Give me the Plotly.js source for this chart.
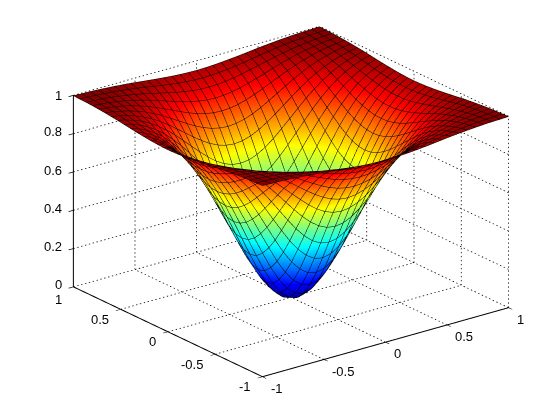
<!DOCTYPE html>
<html><head><meta charset="utf-8"><script src="https://cdn.plot.ly/plotly-3.0.1.min.js"></script>
<style>html,body{margin:0;padding:0;background:#fff}#p{width:560px;height:420px}</style></head><body><div id="p"></div>
<script>
// grid positions, shared by both horizontal axes
const gridCoords=[-1,-0.933,-0.867,-0.8,-0.733,-0.667,-0.6,-0.533,-0.467,-0.4,-0.333,-0.267,-0.2,-0.133,-0.067,0,0.067,0.133,0.2,0.267,0.333,0.4,0.467,0.533,0.6,0.667,0.733,0.8,0.867,0.933,1];
// heights read for one quadrant (centre to corner); the surface is mirror-symmetric
const zQuadrant=[
[0,.013,.052,.113,.192,.283,.381,.480,.574,.660,.736,.801,.853,.895,.927,.950],
[.013,.026,.065,.125,.203,.293,.389,.487,.580,.665,.740,.803,.855,.896,.928,.951],
[.052,.065,.101,.159,.234,.321,.413,.507,.596,.678,.750,.811,.861,.900,.931,.953],
[.113,.125,.159,.213,.283,.365,.451,.539,.622,.699,.766,.823,.870,.907,.935,.956],
[.192,.203,.234,.283,.347,.421,.500,.580,.656,.726,.787,.839,.882,.915,.941,.960],
[.283,.293,.321,.365,.421,.487,.556,.627,.695,.757,.811,.857,.895,.925,.947,.964],
[.381,.389,.413,.451,.500,.556,.617,.678,.736,.790,.837,.877,.909,.935,.955,.969],
[.480,.487,.507,.539,.580,.627,.678,.729,.778,.823,.863,.896,.924,.945,.962,.974],
[.574,.580,.596,.622,.656,.695,.736,.778,.819,.855,.888,.915,.938,.955,.969,.979],
[.660,.665,.678,.699,.726,.757,.790,.823,.855,.885,.911,.932,.950,.964,.975,.983],
[.736,.740,.750,.766,.787,.811,.837,.863,.888,.911,.931,.947,.961,.972,.981,.987],
[.801,.803,.811,.823,.839,.857,.877,.896,.915,.932,.947,.960,.971,.979,.985,.990],
[.853,.855,.861,.870,.882,.895,.909,.924,.938,.950,.961,.971,.978,.985,.989,.993],
[.895,.896,.900,.907,.915,.925,.935,.945,.955,.964,.972,.979,.985,.989,.992,.995],
[.927,.928,.931,.935,.941,.947,.955,.962,.969,.975,.981,.985,.989,.992,.995,.996],
[.950,.951,.953,.956,.960,.964,.969,.974,.979,.983,.987,.990,.993,.995,.996,.998]];
const horizTicks=[-1,-0.5,0,0.5,1];
const horizLabels=['-1','-0.5','0','0.5','1'];
const zTicks=[0,0.2,0.4,0.6,0.8,1];
const zLabels=['0','0.2','0.4','0.6','0.8','1'];
const jet=[[0,'#00008f'],[0.125,'#0000ff'],[0.375,'#00ffff'],[0.625,'#ffff00'],[0.875,'#ff0000'],[1,'#800000']];

const mirror=r=>r.slice(1).reverse().concat(r);
const zGrid=mirror(zQuadrant.map(mirror));

// dotted grid: short dashes along each grid line on the floor and the two back walls
const gx=[],gy=[],gz=[];
function dots(a,b,n){
  for(let i=0;i<n;i++){
    const p=i/n,q=(i+0.35)/n;
    gx.push(a[0]+(b[0]-a[0])*p,a[0]+(b[0]-a[0])*q,null);
    gy.push(a[1]+(b[1]-a[1])*p,a[1]+(b[1]-a[1])*q,null);
    gz.push(a[2]+(b[2]-a[2])*p,a[2]+(b[2]-a[2])*q,null);
  }
}
horizTicks.forEach(t=>{
  dots([t,-1,0],[t,1,0],52); dots([-1,t,0],[1,t,0],64);
  dots([t,1,0],[t,1,1],48);  dots([1,t,0],[1,t,1],48);
});
zTicks.forEach(t=>{ dots([-1,1,t],[1,1,t],64); dots([1,-1,t],[1,1,t],52); });

const surface={type:'surface',x:gridCoords,y:gridCoords,z:zGrid,colorscale:jet,cmin:0,cmax:1,showscale:false,
  lighting:{ambient:1,diffuse:0,specular:0,roughness:1,fresnel:0},
  contours:{x:{show:true,start:-1,end:1,size:1/15,color:'#000',width:2},
            y:{show:true,start:-1,end:1,size:1/15,color:'#000',width:2},
            z:{show:false}},hoverinfo:'skip'};
const dotted={type:'scatter3d',mode:'lines',x:gx,y:gy,z:gz,connectgaps:false,line:{color:'#000',width:1.5},hoverinfo:'skip',showlegend:false};
const box={type:'scatter3d',mode:'lines',
  x:[-1,-1,-1,1],y:[1,1,-1,-1],z:[1,0,0,0],line:{color:'#000',width:2},hoverinfo:'skip',showlegend:false};

const font={family:'Liberation Sans, Arial, sans-serif',size:13,color:'#000'};
const ax=vals=>({tickvals:vals,showticklabels:false,ticks:'outside',ticklen:6,tickwidth:1.5,tickcolor:'#000',
  showgrid:false,zeroline:false,showline:false,showbackground:false,showspikes:false,title:{text:''}});
const note=(x,y,z,text,xanchor,xshift,yshift)=>({x,y,z,text,showarrow:false,xanchor,yanchor:'middle',xshift,yshift,font});
const labels=[];
horizTicks.forEach((t,i)=>{
  labels.push(note(-1,t,0,horizLabels[i],'right',-10,t===1?-13:-10));
  labels.push(note(t,-1,0,horizLabels[i],'left',6,-11.5));
});
zTicks.forEach((t,i)=>labels.push(note(-1,1,t,zLabels[i],'right',-10,t===1?0:2)));

const layout={width:560,height:420,margin:{l:0,r:0,t:0,b:0},paper_bgcolor:'#fff',showlegend:false,
  scene:{domain:{x:[0.04,1],y:[0.04,1]},aspectmode:'manual',aspectratio:{x:1.54,y:1.54,z:1.021},
    xaxis:Object.assign(ax(horizTicks),{range:[-1,1]}),
    yaxis:Object.assign(ax(horizTicks),{range:[-1,1]}),
    zaxis:Object.assign(ax(zTicks),{range:[0,1]}),
    annotations:labels,
    camera:{projection:{type:'orthographic'},up:{x:0,y:0,z:1},center:{x:0,y:0,z:0},
      eye:{x:-1.134,y:-1.476,z:0.73}}}};
Plotly.newPlot('p',[surface,dotted,box],layout,{displayModeBar:false});
</script></body></html>
